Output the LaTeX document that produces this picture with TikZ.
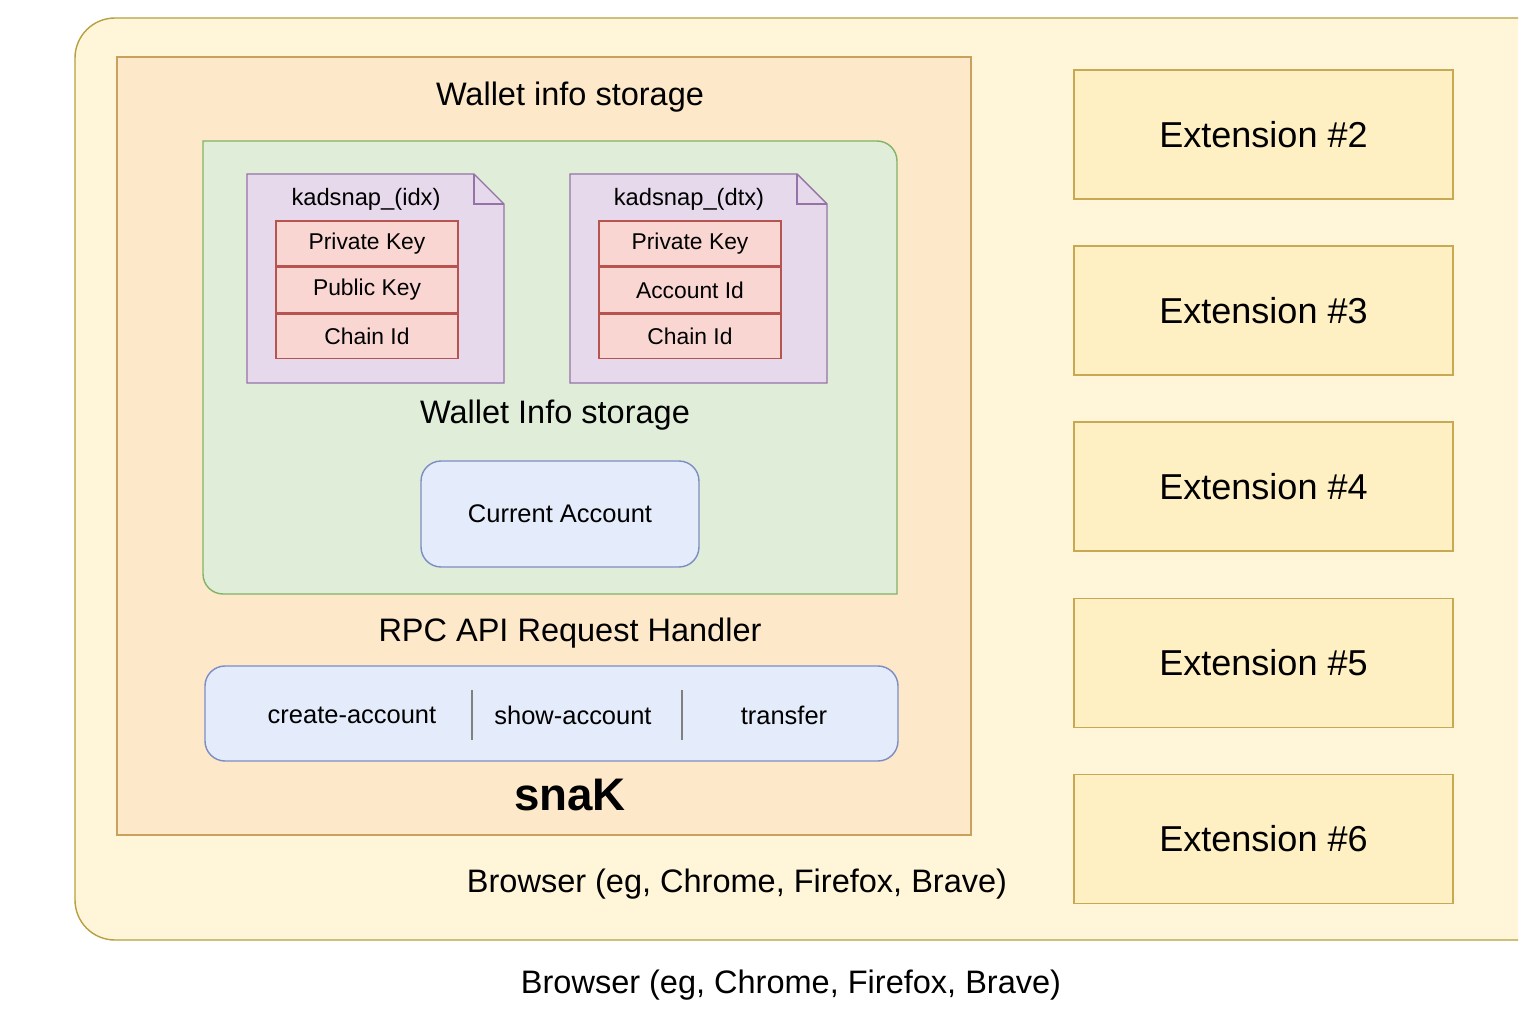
\documentclass[tikz,border=0pt]{standalone}
\usepackage{fontspec}
\setmainfont{Liberation Sans}
\usetikzlibrary{positioning}
\definecolor{brfill}{HTML}{FFF5D9}
\definecolor{brline}{HTML}{B8A040}
\definecolor{snfill}{HTML}{FDE9C9}
\definecolor{snline}{HTML}{C9A05C}
\definecolor{grfill}{HTML}{E0EED9}
\definecolor{grline}{HTML}{82B366}
\definecolor{dcfill}{HTML}{E6D9EC}
\definecolor{dcline}{HTML}{9673A6}
\definecolor{rwfill}{HTML}{FAD6D3}
\definecolor{rwline}{HTML}{B85450}
\definecolor{blfill}{HTML}{E4EBFB}
\definecolor{blline}{HTML}{7C8CC4}
\definecolor{exfill}{HTML}{FEF0C2}
\definecolor{exline}{HTML}{C8A850}
\tikzset{
  row/.style={draw=rwline, fill=rwfill, minimum width=3.64cm, minimum height=0.9cm, font=\fontsize{13}{15}\selectfont, inner sep=0pt},
  ext/.style={draw=exline, fill=exfill, minimum width=7.58cm, minimum height=2.58cm, font=\fontsize{20.5}{24}\selectfont},
  big/.style={font=\fontsize{18.5}{22}\selectfont},
  small/.style={font=\fontsize{14.5}{17}\selectfont}
}
\begin{document}
\begin{tikzpicture}[x=0.02cm, y=-0.02cm, line width=0.8pt]
    \useasboundingbox (0,0) rectangle (1536,1024);
    \fill[white] (0,0) rectangle (1536,1024);

% browser
    \draw[brline, fill=brfill] (1518,940) -- (115,940) arc[start angle=270, end angle=180, radius=0.8cm] -- (75,58) arc[start angle=180, end angle=90, radius=0.8cm] -- (1518,18);
    \node[big] (brin) at (737,884) {Browser (eg, Chrome, Firefox, Brave)};
    \node[big] (brout) at (791,985) {Browser (eg, Chrome, Firefox, Brave)};

% snak
    \draw[snline, fill=snfill] (117,57) rectangle (971,835);
    \node[big] (wis) at (570,97) {Wallet info storage};
    \draw[grline, fill=grfill] (203,141) -- (877,141) arc[start angle=90, end angle=0, radius=0.4cm] -- (897,594) -- (223,594) arc[start angle=270, end angle=180, radius=0.4cm] -- cycle;

% documents
    \foreach \dx/\nm/\rb in {0/idx/Public Key, 323/dtx/Account Id}{
      \begin{scope}[xshift=\dx*0.02cm]
      \draw[dcline, fill=dcfill] (247,174) -- (474,174) -- (504,204) -- (504,383) -- (247,383) -- cycle;
      \draw[dcline] (474,174) -- (474,204) -- (504,204);
      \node[font=\fontsize{13.5}{16}\selectfont] at (366,199) {kadsnap\_(\nm)};
      \node[row] (pk\nm) at (367,243.5) {Private Key};
      \node[row, below=0pt of pk\nm] (pb\nm) {\rb};
      \node[row, below=0pt of pb\nm] (ci\nm) {Chain Id};
      \end{scope}
    }
    \node[big] (wis2) at (555,415) {Wallet Info storage};
    \node[draw=blline, fill=blfill, rounded corners=0.4cm, minimum width=5.56cm, minimum height=2.12cm, small] (cur) at (560,514) {Current Account};

% rpc
    \node[big] (rpc) at (570,633) {RPC API Request Handler};
    \draw[blline, fill=blfill, rounded corners=0.4cm] (205,666) rectangle (898,761);
    \draw[gray] (472,690) -- (472,740);
    \draw[gray] (682,690) -- (682,740);
    \node[small] (ca) at (352,715) {create-account};
    \node[small] (sa) at (573,715) {show-account};
    \node[small] (tr) at (784,715) {transfer};
    \node[font=\fontsize{26}{30}\selectfont\bfseries] (snak) at (570,795) {snaK};

% extensions
    \foreach \i/\y in {2/134.5, 3/310.5, 4/486.5, 5/663, 6/839}{
      \node[ext] (ex\i) at (1263.5,\y) {Extension \#\i};
    }
\end{tikzpicture}
\end{document}
